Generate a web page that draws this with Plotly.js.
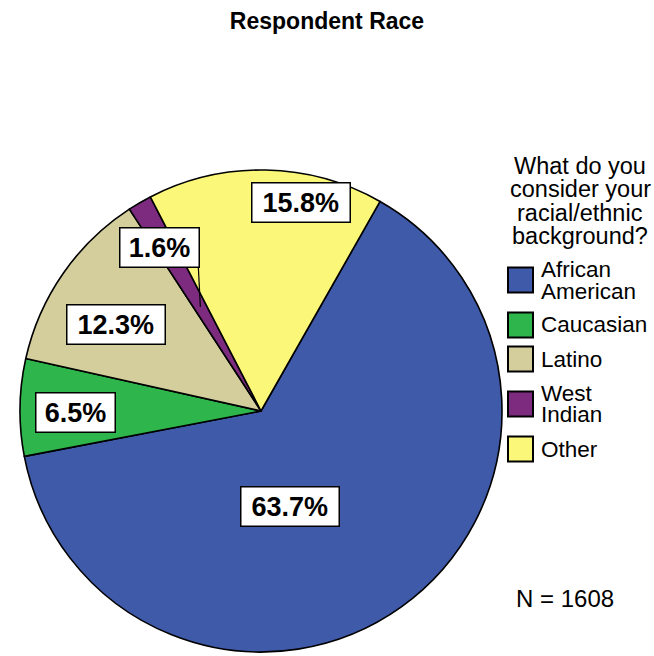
<!DOCTYPE html>
<html><head><meta charset="utf-8">
<script src="https://cdn.plot.ly/plotly-3.0.1.min.js"></script>
<style>html,body{margin:0;padding:0;background:#fff}#chart{width:654px;height:656px}</style>
</head><body><div id="chart"></div>
<script>
// ---- data ----
const categories = ['African American', 'Caucasian', 'Latino', 'West Indian', 'Other'];
const legendLabels = [['African', 'American'], ['Caucasian'], ['Latino'], ['West', 'Indian'], ['Other']];
const percentages = [63.7, 6.5, 12.3, 1.6, 15.8];
const colors = ['#3F5AA9', '#2EB54B', '#D4CD9C', '#7C2B7E', '#FBF778'];
const legendTitleLines = ['What do you', 'consider your', 'racial/ethnic', 'background?'];
const sampleNote = 'N = 1608';
const chartTitle = 'Respondent Race';

// ---- layout parameters ----
const W = 654, H = 656, CX = 261, CY = 411, R = 241, ROT = 29.6;
const labelAngleOffset = [18.9, -1.2, -3.7, -1.6, 9.75];
const labelRadiusFrac = [0.415, 0.77, 0.70, 0.80, 0.88];
const leaderIndex = 3, leaderFrac = 0.50;
const LBL_H = 34, LBL_CHAR_W = 18.5;
const FONT = 'Liberation Sans, Arial, sans-serif';

function pt(angDeg, frac) {
  const a = angDeg * Math.PI / 180;
  return [CX + R * frac * Math.sin(a), CY - R * frac * Math.cos(a)];
}
const px2x = x => x / W, px2y = y => 1 - y / H;

const total = percentages.reduce((s, v) => s + v, 0);
const annotations = [];
const shapes = [];
let cum = 0;
percentages.forEach((v, i) => {
  const span = v / total * 360;
  const mid = ROT + cum + span / 2;
  cum += span;
  const [bx, by] = pt(mid + labelAngleOffset[i], labelRadiusFrac[i]);
  const txt = v.toFixed(1) + '%';
  const bw = txt.length * LBL_CHAR_W;
  annotations.push({
    text: '<b>' + txt + '</b>', font: {family: FONT, size: 27, color: '#000'},
    bgcolor: '#fff', bordercolor: '#000', borderwidth: 1.5, borderpad: 2,
    width: bw, height: LBL_H, xref: 'paper', yref: 'paper',
    xanchor: 'center', yanchor: 'middle', x: px2x(bx), y: px2y(by), showarrow: false
  });
  if (i === leaderIndex) {
    const [tx, ty] = pt(mid, leaderFrac);
    shapes.push({type: 'line', xref: 'paper', yref: 'paper', layer: 'above',
      x0: px2x(bx + bw / 2 + 2), y0: px2y(by + LBL_H / 2 + 3), x1: px2x(tx), y1: px2y(ty),
      line: {color: '#000', width: 1.2}});
  }
});

// legend title
legendTitleLines.forEach((t, i) => {
  annotations.push({text: t, x: px2x(580), y: px2y(166 + i * 23.4), xref: 'paper', yref: 'paper',
    xanchor: 'center', yanchor: 'middle', showarrow: false,
    font: {family: FONT, size: 23.5, color: '#000'}});
});
// legend items
let itemTop = 252;
legendLabels.forEach((lines, i) => {
  const h = 22 * lines.length + 12;
  const c = itemTop + h / 2;
  shapes.push({type: 'rect', xref: 'paper', yref: 'paper', x0: px2x(508), x1: px2x(533),
    y0: px2y(c - 12.5), y1: px2y(c + 12.5), fillcolor: colors[i], line: {color: '#000', width: 2}});
  lines.forEach((t, j) => {
    annotations.push({text: t, x: px2x(539), y: px2y(c + (j - (lines.length - 1) / 2) * 22),
      xref: 'paper', yref: 'paper', xanchor: 'left', yanchor: 'middle', showarrow: false,
      font: {family: FONT, size: 22.5, color: '#000'}});
  });
  itemTop += h;
});
annotations.push({text: sampleNote, x: px2x(565), y: px2y(598), xref: 'paper', yref: 'paper',
  xanchor: 'center', yanchor: 'middle', showarrow: false, font: {family: FONT, size: 24, color: '#000'}});

const trace = {
  type: 'pie', values: percentages, labels: categories, sort: false, direction: 'clockwise',
  rotation: ROT, textinfo: 'none', hoverinfo: 'label+percent',
  marker: {colors: colors, line: {color: '#000', width: 1.6}},
  domain: {x: [(CX - R) / W, (CX + R) / W], y: [(H - CY - R) / H, (H - CY + R) / H]},
  showlegend: false
};

const layout = {
  width: W, height: H, margin: {l: 0, r: 0, t: 0, b: 0},
  paper_bgcolor: '#fff', showlegend: false,
  title: {text: '<b>' + chartTitle + '</b>', x: 0.5, xanchor: 'center', y: 1 - 21 / H, yanchor: 'middle',
    font: {family: FONT, size: 23, color: '#000'}},
  annotations: annotations, shapes: shapes
};
Plotly.newPlot('chart', [trace], layout, {displayModeBar: false, staticPlot: true});
</script>
</body></html>
